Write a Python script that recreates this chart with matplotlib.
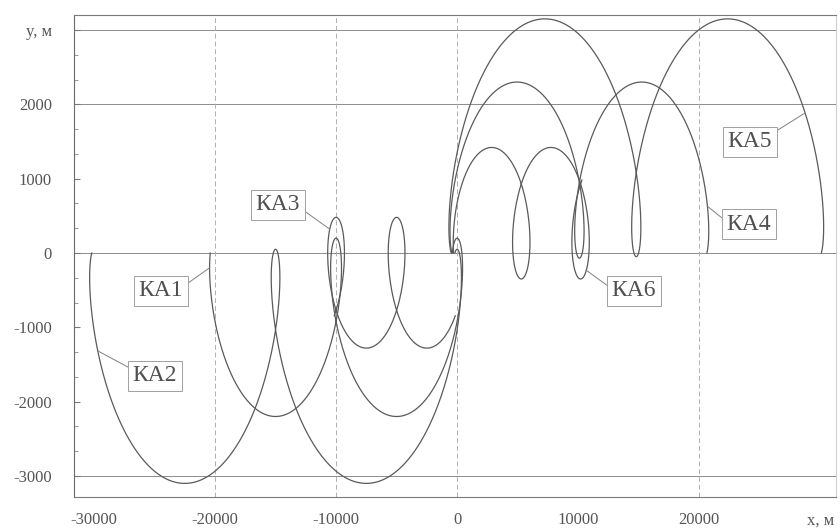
import numpy as np
import matplotlib.pyplot as plt
from matplotlib.ticker import AutoMinorLocator

# relative orbits of six spacecraft
names = ['КА1', 'КА2', 'КА3', 'КА4', 'КА5', 'КА6']
loop_x = [-20000, -30000, -10000, -200, -300, 400]      # x of first loop tip, m
loop_y = [200, 50, 480, -70, -50, -350]                  # y at loop tips, m
arc_y = [-2200, -3100, -1280, 2300, 3150, 1420]         # y at arc extremes, m
step_x = [10000, 15000, 5000, 10300, 15100, 4900]       # drift per orbit, m
orbits = 2
phase_start = [0.586, 0.253, -2.1, 0.345, 0.25, 0.922]  # rad
phase_end = [0.586, 0.253, -2.1, -0.345, -0.25, 2.1]    # rad, after the orbits

label_xy = [(-24500, -510), (-24950, -1655), (-14790, 646),
            (24120, 390), (24200, 1494), (14620, -511)]
point_xy = [(-20450, -200), (-29650, -1320), (-10520, 320),
            (20650, 633), (28700, 1880), (10650, -230)]
relpos = [(1, 0.7), (0, 0.8), (1, 0.35), (0, 0.6), (1, 0.9), (0, 0.6)]

xticks = [-30000, -20000, -10000, 0, 10000, 20000, 30000]
xtick_labels = ['-30000', '-20000', '-10000', '0', '10000', '20000', 'x, м']
yticks = [-3000, -2000, -1000, 0, 1000, 2000, 3000]
ytick_labels = ['-3000', '-2000', '-1000', '0', '1000', '2000', 'y, м']
grid_y = [-3000, 0, 2000, 3000]
grid_x = [-20000, -10000, 0, 20000]


def track(x0, y_tip, y_arc, step, t0, t1):
    a = (y_tip - y_arc) / 2.0
    yc = (y_tip + y_arc) / 2.0
    th = np.linspace(t0, t1, 4000)
    x = x0 + step * th / (2 * np.pi) - 2 * abs(a) * np.sin(th)
    y = yc + a * np.cos(th)
    return x, y


plt.rcParams['font.family'] = ['Liberation Serif', 'DejaVu Serif']

fig = plt.figure(figsize=(8.4, 5.29), dpi=100)
ax = fig.add_axes([74 / 840, 1 - 497 / 529, 762 / 840, 482 / 529])

for gy in grid_y:
    ax.axhline(gy, color='#8c8c8c', lw=0.7, zorder=1)
for gx in grid_x:
    ax.axvline(gx, color='#b0b0b0', lw=0.7, ls=(0, (5, 3)), zorder=1)

for i in range(len(names)):
    t1 = 2 * np.pi * orbits + phase_end[i]
    x, y = track(loop_x[i], loop_y[i], arc_y[i], step_x[i], phase_start[i], t1)
    ax.plot(x, y, color='#5a5a5a', lw=0.9, zorder=2)

for name, txy, pxy, rp in zip(names, label_xy, point_xy, relpos):
    ax.annotate(name, xy=pxy, xytext=txy, ha='center', va='center',
                fontsize=17, color='#505050',
                bbox=dict(boxstyle='square,pad=0.2', fc='white', ec='#a0a0a0', lw=0.7),
                arrowprops=dict(arrowstyle='-', color='#808080', lw=0.7,
                                relpos=rp, shrinkA=0, shrinkB=0),
                zorder=3)

ax.set_xlim(-31650, 31300)
ax.set_ylim(-3283, 3202)
ax.set_xticks(xticks)
ax.set_xticklabels(xtick_labels)
ax.set_yticks(yticks)
ax.set_yticklabels(ytick_labels)
ax.yaxis.set_minor_locator(AutoMinorLocator(3))
ax.tick_params(axis='both', which='major', labelsize=12, labelcolor='#555555',
               color='#777777', direction='in', length=4)
ax.tick_params(axis='y', which='major', pad=16)
ax.tick_params(axis='x', which='major', pad=11, length=0)
ax.tick_params(axis='y', which='minor', direction='in', length=3, color='#888888')

ax.spines['left'].set_color('#6a6a6a')
ax.spines['top'].set_color('#7a7a7a')
ax.spines['bottom'].set_color('#7a7a7a')
ax.spines['right'].set_color('#d0d0d0')
for s in ax.spines.values():
    s.set_linewidth(0.8)

fig.savefig('out.png', dpi=100)
